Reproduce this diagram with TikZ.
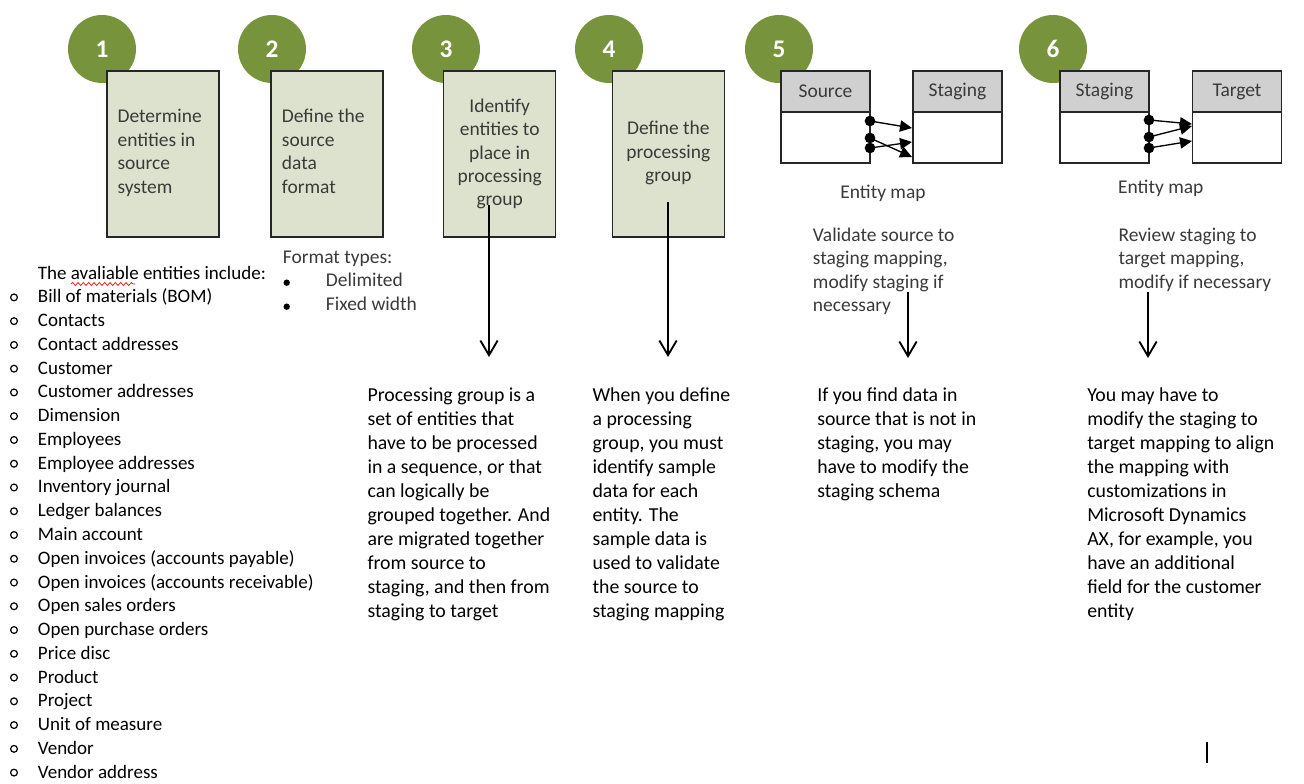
\documentclass[tikz,border=0pt]{standalone}
\usepackage{fontspec}
\setmainfont{Carlito}
\usetikzlibrary{arrows.meta,decorations.pathmorphing}
\definecolor{stepgreen}{HTML}{77933C}
\definecolor{boxfill}{HTML}{DDE2CE}
\definecolor{hdrgray}{HTML}{D0D0D0}
\definecolor{imgtext}{HTML}{3A3A3A}
\begin{document}
\begin{tikzpicture}[x=0.75pt,y=-0.75pt,
  num/.style={circle, fill=stepgreen, minimum size=51pt, inner sep=0, text=white, font=\fontsize{19}{20}\selectfont\bfseries},
  stepbox/.style={draw=black!85, fill=boxfill, line width=1.4pt, inner sep=0, minimum width=84pt, minimum height=124.5pt},
  tbl/.style={draw=black!85, fill=white, line width=1.1pt, inner sep=0, minimum width=66.75pt, minimum height=69pt},
  hdr/.style={draw=black!85, fill=hdrgray, line width=1.1pt, inner sep=0, minimum width=66.75pt, minimum height=30.75pt, text=imgtext, font=\fontsize{14.6}{16}\selectfont},
  img/.style={inner sep=0, text=imgtext, font=\fontsize{14.6}{16}\selectfont, anchor=base west},
  imgc/.style={img, anchor=base},
  body/.style={inner sep=0, text=black, font=\fontsize{14.85}{17}\selectfont, anchor=base west},
  lst/.style={inner sep=0, text=black, font=\fontsize{14.25}{17}\selectfont, anchor=base west},
  flow/.style={line width=1.4pt, -{Straight Barb[length=11pt,width=13pt,line width=1.4pt]}},
  link/.style={line width=1pt, -{Triangle[length=9pt,width=8.5pt]}},
  dot/.style={circle, fill=black, minimum size=8pt, inner sep=0},
]
\useasboundingbox (0,0) rectangle (1304,784);
\fill[white] (0,0) rectangle (1304,784);

% step circles
\node[num] (n1) at (102,49) {1};
\node[num] (n2) at (272,49) {2};
\node[num] (n3) at (446,49) {3};
\node[num] (n4) at (609,49) {4};
\node[num] (n5) at (779,49) {5};
\node[num] (n6) at (1053,49) {6};

% step boxes
\node[stepbox] (s1) at (163,154) {};
\node[stepbox] (s2) at (327,154) {};
\node[stepbox] (s3) at (499.5,154) {};
\node[stepbox] (s4) at (668.5,154) {};

\foreach \t [count=\i] in {Determine,entities in,source,system}
  \node[img] (s1t\i) at (117.3,{122.7+23.5*(\i-1)}) {\t};
\foreach \t [count=\i] in {Define the,source,data,format}
  \node[img] (s2t\i) at (281.7,{122.7+23.5*(\i-1)}) {\t};
\foreach \t [count=\i] in {Identify,entities to,place in,processing,group}
  \node[imgc] (s3t\i) at (499.7,{112.7+23.2*(\i-1)}) {\t};
\foreach \t [count=\i] in {Define the,processing,group}
  \node[imgc] (s4t\i) at (668.3,{135+23.3*(\i-1)}) {\t};

% entity maps
\node[tbl] (src5) at (825.5,117) {};
\node[hdr] (src5h) at (825.5,91.5) {Source};
\node[tbl] (stg5) at (957.5,117) {};
\node[hdr] (stg5h) at (957.5,91.5) {Staging};
\node[tbl] (stg6) at (1104.5,117) {};
\node[hdr] (stg6h) at (1104.5,91.5) {Staging};
\node[tbl] (tgt6) at (1237,117) {};
\node[hdr] (tgt6h) at (1237,91.5) {Target};

\coordinate (e5a) at (912,128);
\coordinate (e5b) at (912,157);
\coordinate (e5c) at (912,142);
\node[dot] (d5a) at (870,121) {};
\node[dot] (d5b) at (870,138) {};
\node[dot] (d5c) at (870,148) {};
\draw[link] (d5a.center) -- (e5a);
\draw[link] (d5b.center) -- (e5b);
\draw[link] (d5c.center) -- (e5c);

\coordinate (e6a) at (1192,124);
\coordinate (e6b) at (1192,126);
\coordinate (e6c) at (1192,141);
\node[dot] (d6a) at (1149,120) {};
\node[dot] (d6b) at (1149,137) {};
\node[dot] (d6c) at (1149,148) {};
\draw[link] (d6a.center) -- (e6a);
\draw[link] (d6b.center) -- (e6b);
\draw[link] (d6c.center) -- (e6c);

\node[imgc] (em5) at (883,198.3) {Entity map};
\node[imgc] (em6) at (1160.8,193.3) {Entity map};

\foreach \t [count=\i] in {Validate source to,{staging mapping,},modify staging if,necessary}
  \node[img] (v5t\i) at (812.7,{241.7+23.2*(\i-1)}) {\t};
\foreach \t [count=\i] in {Review staging to,{target mapping,},modify if necessary}
  \node[img] (r6t\i) at (1118.3,{241.7+23.2*(\i-1)}) {\t};

% format types
\node[img] (ft) at (282.7,263.3) {Format types:};
\node[img] (ft1) at (325.7,286.7) {Delimited};
\node[img] (ft2) at (325.7,310.7) {Fixed width};
\fill (286.7,282.7) circle[radius=3.2];
\fill (286.7,306.7) circle[radius=3.2];

% entity list
\node[lst] (lh) at (37.7,279.3) {The avaliable entities include:};
\draw[red, line width=0.5pt, decorate, decoration={snake, amplitude=1.1, segment length=4}] (71,284) -- (135,284);
\foreach \t [count=\i] in {Bill of materials (BOM),Contacts,Contact addresses,Customer,Customer addresses,Dimension,Employees,Employee addresses,Inventory journal,Ledger balances,Main account,Open invoices (accounts payable),Open invoices (accounts receivable),Open sales orders,Open purchase orders,Price disc,Product,Project,Unit of measure,Vendor,Vendor address}
{
  \node[lst] (li\i) at (37.7,{302.9+23.76*(\i-1)}) {\t};
  \draw[line width=0.9pt] (14,{302.9+23.76*(\i-1)-5.5}) circle[radius=3.4];
}

% descriptions
\foreach \t [count=\i] in {Processing group is a,set of entities that,have to be processed,{in a sequence, or that},can logically be,grouped together. And,are migrated together,from source to,{staging, and then from},staging to target}
  \node[body] (p3t\i) at (367.3,{401.7+24*(\i-1)}) {\t};
\foreach \t [count=\i] in {When you define,a processing,{group, you must},identify sample,data for each,entity. The,sample data is,used to validate,the source to,staging mapping}
  \node[body] (p4t\i) at (592.3,{401.7+24*(\i-1)}) {\t};
\foreach \t [count=\i] in {If you find data in,source that is not in,{staging, you may},have to modify the,staging schema}
  \node[body] (p5t\i) at (817,{401.7+24*(\i-1)}) {\t};
\foreach \t [count=\i] in {You may have to,modify the staging to,target mapping to align,the mapping with,customizations in,Microsoft Dynamics,{AX, for example, you},have an additional,field for the customer,entity}
  \node[body] (p6t\i) at (1087,{401.7+24*(\i-1)}) {\t};

% flow arrows
\coordinate (a3s) at (489,205);
\coordinate (a3e) at (489,357);
\coordinate (a4s) at (668,202);
\coordinate (a4e) at (668,357);
\coordinate (a5s) at (908,292);
\coordinate (a5e) at (908,358);
\coordinate (a6s) at (1148,292);
\coordinate (a6e) at (1148,358);
\draw[flow] (a3s) -- (a3e);
\draw[flow] (a4s) -- (a4e);
\draw[flow] (a5s) -- (a5e);
\draw[flow] (a6s) -- (a6e);

% cursor bar
\coordinate (cb1) at (1207,742);
\coordinate (cb2) at (1207,763);
\draw[line width=0.8pt] (cb1) -- (cb2);
\end{tikzpicture}
\end{document}
